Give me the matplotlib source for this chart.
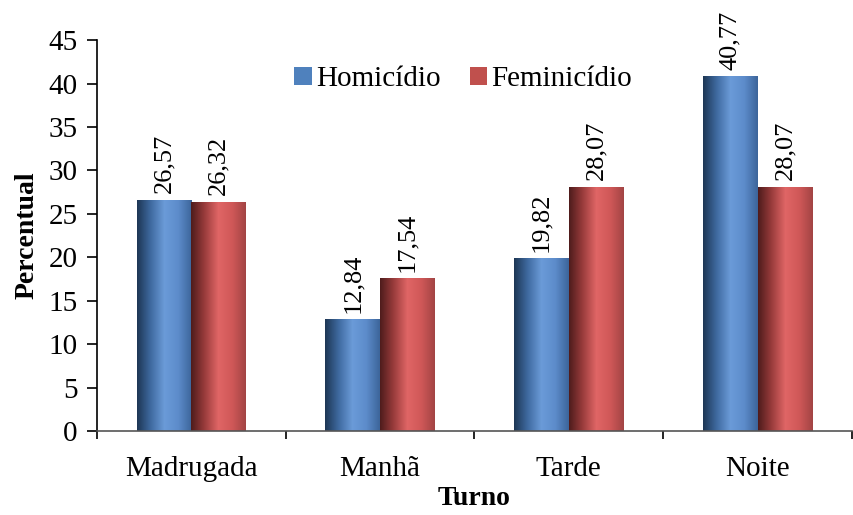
import numpy as np
import matplotlib
matplotlib.use("Agg")
import matplotlib.pyplot as plt
from matplotlib.colors import LinearSegmentedColormap

plt.rcParams['font.family'] = ['Liberation Serif', 'DejaVu Serif']

# Dados por turno (%)
turnos = ["Madrugada", "Manhã", "Tarde", "Noite"]
homicidio = [26.57, 12.84, 19.82, 40.77]
feminicidio = [26.32, 17.54, 28.07, 28.07]
series = ["Homicídio", "Feminicídio"]

# Degradê horizontal das barras (efeito cilindro)
cmap_azul = LinearSegmentedColormap.from_list(
    "azul", ["#1d3654", "#3f6aa0", "#6b9bd8", "#5d8ccb", "#3c659a"])
cmap_verm = LinearSegmentedColormap.from_list(
    "verm", ["#4e1c1c", "#9a3c3c", "#e06666", "#d05858", "#a24444"])

fig = plt.figure(figsize=(8.54, 5.15), dpi=100)
ax = fig.add_axes([0.1136, 0.163, 0.884, 0.759])

x = np.arange(len(turnos))
w = 0.29
b1 = ax.bar(x - w / 2, homicidio, w, color="#4f81bd", label=series[0], zorder=2)
b2 = ax.bar(x + w / 2, feminicidio, w, color="#c0504d", label=series[1], zorder=2)

grad = np.linspace(0, 1, 256).reshape(1, -1)
for barras, cmap in ((b1, cmap_azul), (b2, cmap_verm)):
    for r in barras:
        x0, y0 = r.get_x(), r.get_y()
        ax.imshow(grad, cmap=cmap, aspect="auto", zorder=2.5,
                  extent=[x0, x0 + r.get_width(), y0, y0 + r.get_height()])

for barras, vals in ((b1, homicidio), (b2, feminicidio)):
    for r, v in zip(barras, vals):
        ax.annotate(f"{v:.2f}".replace(".", ","),
                    (r.get_x() + r.get_width() / 2, v),
                    xytext=(0, 5), textcoords="offset points",
                    ha="center", va="bottom", rotation=90, fontsize=19)

ax.set_xlim(-0.5, len(turnos) - 0.5)
ax.set_ylim(0, 45)
ax.set_yticks(np.arange(0, 46, 5))
ax.set_xticks(x)
ax.set_xticklabels(turnos)
ax.set_xticks(np.arange(-0.5, len(turnos)), minor=True)
ax.tick_params(axis="x", which="major", length=0, pad=18, labelsize=21)
ax.tick_params(axis="x", which="minor", length=6, width=1.2, direction="out")
ax.tick_params(axis="y", length=7, width=1.2, pad=7, labelsize=21)

for s in ("top", "right"):
    ax.spines[s].set_visible(False)
ax.spines["left"].set_linewidth(1.2)
ax.spines["bottom"].set_linewidth(1.2)
ax.spines["bottom"].set_color("#555555")

ax.set_ylabel("Percentual", fontsize=20, fontweight="bold", labelpad=6)
ax.set_xlabel("Turno", fontsize=20, fontweight="bold", labelpad=3)

leg = ax.legend(loc="upper center", bbox_to_anchor=(0.485, 1.0), ncol=2,
                frameon=False, fontsize=21, handlelength=0.6, handleheight=0.6,
                handletextpad=0.15, columnspacing=1.0)

plt.savefig("out.png", dpi=100)
plt.close()
